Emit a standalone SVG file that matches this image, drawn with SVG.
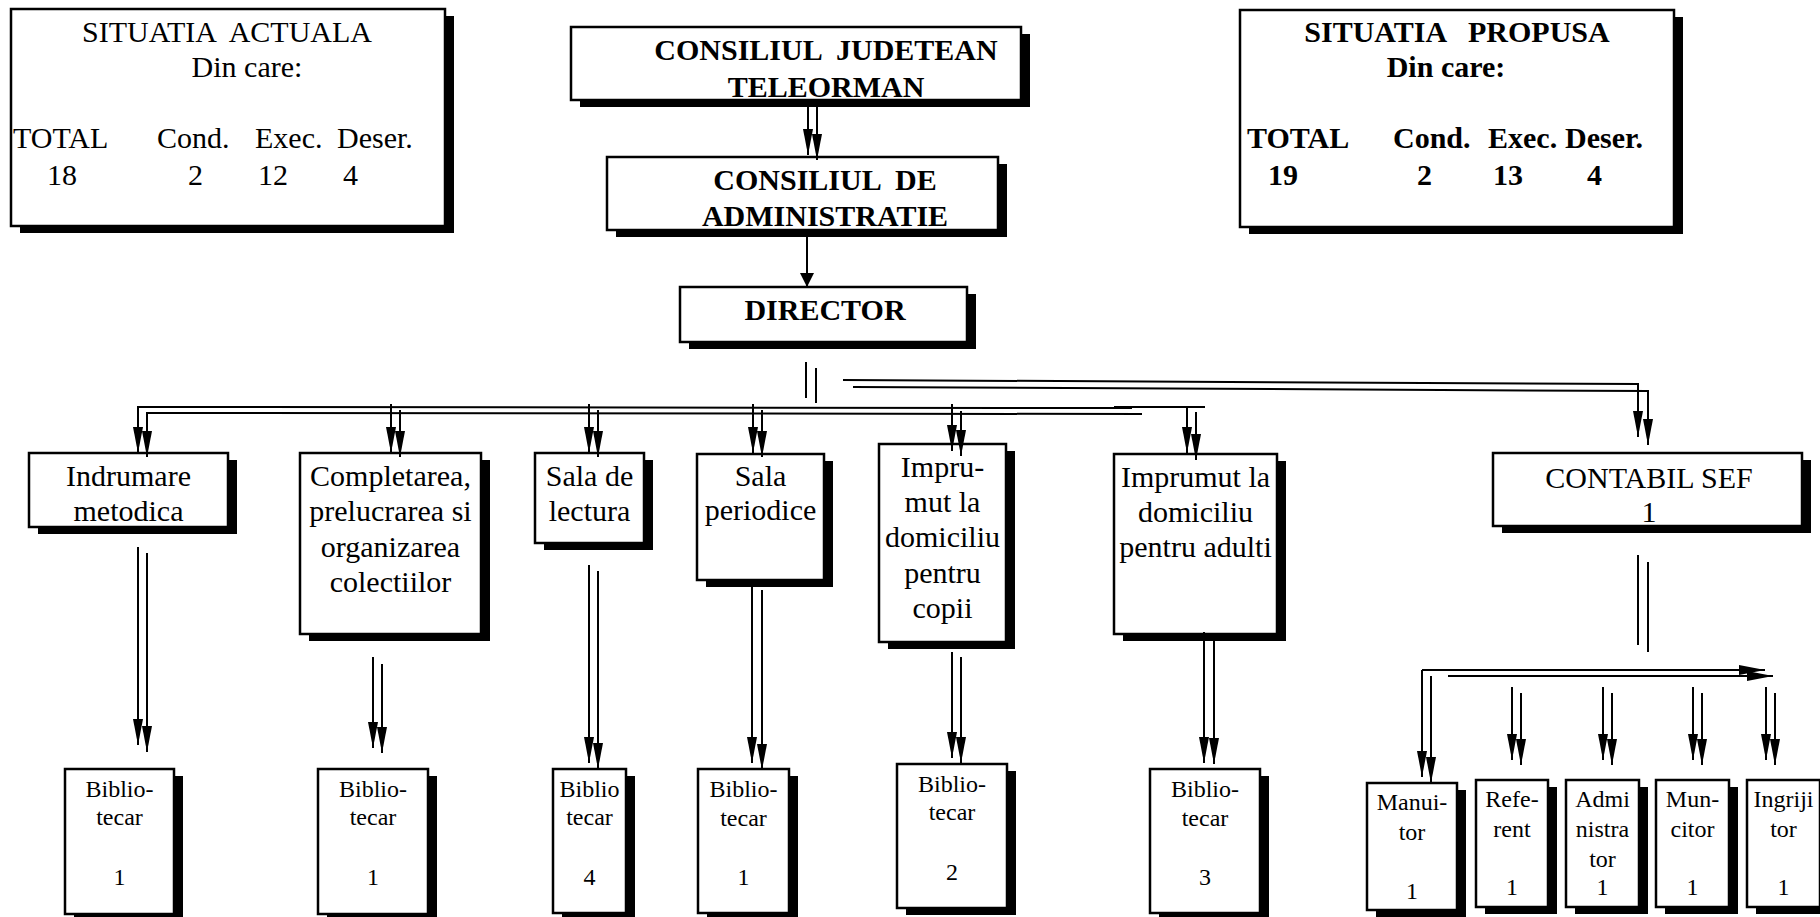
<svg xmlns="http://www.w3.org/2000/svg" width="1820" height="917" viewBox="0 0 1820 917">
<style>
.box{fill:#fff;stroke:#000;stroke-width:2.5}
.sh{fill:#000}
.t{font-family:"Liberation Serif","Times New Roman",serif;font-size:30px;fill:#000}
.b{font-weight:bold}
.m{text-anchor:middle}
.s{font-size:24px}
.c{fill:none;stroke:#000;stroke-width:2}
.a{marker-end:url(#ah)}
</style>
<defs>
<marker id="ah" markerUnits="userSpaceOnUse" markerWidth="26" markerHeight="10" viewBox="0 0 26 10" refX="26" refY="5" orient="auto"><path d="M0,0 L26,5 L0,10 z" fill="#000"/></marker>
<marker id="aw" markerUnits="userSpaceOnUse" markerWidth="14" markerHeight="14" viewBox="0 0 14 14" refX="14" refY="7" orient="auto"><path d="M0,0 L14,7 L0,14 z" fill="#000"/></marker>
</defs>
<rect width="1820" height="917" fill="#fff"/>

<g id="situatia-actuala">
<rect class="sh" x="20" y="16" width="434" height="217"/>
<rect class="box" x="11" y="9" width="434" height="217"/>
<text class="t m" x="227" y="42" xml:space="preserve">SITUATIA  ACTUALA</text>
<text class="t m" x="247" y="77">Din care:</text>
<text class="t" x="13" y="148">TOTAL</text>
<text class="t" x="157" y="148">Cond.</text>
<text class="t" x="255" y="148">Exec.</text>
<text class="t" x="337" y="148">Deser.</text>
<text class="t" x="47" y="185">18</text>
<text class="t" x="188" y="185">2</text>
<text class="t" x="258" y="185">12</text>
<text class="t" x="343" y="185">4</text>
</g>

<g id="situatia-propusa">
<rect class="sh" x="1249" y="17" width="434" height="217"/>
<rect class="box" x="1240" y="10" width="434" height="217"/>
<text class="t b m" x="1457" y="42" xml:space="preserve">SITUATIA   PROPUSA</text>
<text class="t b m" x="1446" y="77">Din care:</text>
<text class="t b" x="1247" y="148">TOTAL</text>
<text class="t b" x="1393" y="148">Cond.</text>
<text class="t b" x="1488" y="148">Exec.</text>
<text class="t b" x="1565" y="148">Deser.</text>
<text class="t b" x="1268" y="185">19</text>
<text class="t b" x="1417" y="185">2</text>
<text class="t b" x="1493" y="185">13</text>
<text class="t b" x="1587" y="185">4</text>
</g>

<g id="consiliul-judetean">
<rect class="sh" x="580" y="34" width="450" height="73"/>
<rect class="box" x="571" y="27" width="450" height="73"/>
<text class="t b m" x="826" y="60" xml:space="preserve">CONSILIUL  JUDETEAN</text>
<text class="t b m" x="826" y="97">TELEORMAN</text>
</g>

<g id="consiliul-administratie">
<rect class="sh" x="616" y="164" width="391" height="73"/>
<rect class="box" x="607" y="157" width="391" height="73"/>
<text class="t b m" x="825" y="190" xml:space="preserve">CONSILIUL  DE</text>
<text class="t b m" x="825" y="226">ADMINISTRATIE</text>
</g>

<g id="director">
<rect class="sh" x="689" y="294" width="287" height="55"/>
<rect class="box" x="680" y="287" width="287" height="55"/>
<text class="t b m" x="825" y="320">DIRECTOR</text>
</g>

<g id="indrumare">
<rect class="sh" x="38" y="460" width="199" height="74"/>
<rect class="box" x="29" y="453" width="199" height="74"/>
<text class="t m" x="128.5" y="486">Indrumare</text>
<text class="t m" x="128.5" y="521">metodica</text>
</g>

<g id="completarea">
<rect class="sh" x="309" y="460" width="181" height="181"/>
<rect class="box" x="300" y="453" width="181" height="181"/>
<text class="t m" x="390.5" y="486">Completarea,</text>
<text class="t m" x="390.5" y="521">prelucrarea si</text>
<text class="t m" x="390.5" y="557">organizarea</text>
<text class="t m" x="390.5" y="592">colectiilor</text>
</g>

<g id="sala-lectura">
<rect class="sh" x="544" y="460" width="109" height="90"/>
<rect class="box" x="535" y="453" width="109" height="90"/>
<text class="t m" x="589.5" y="486">Sala de</text>
<text class="t m" x="589.5" y="521">lectura</text>
</g>

<g id="sala-periodice">
<rect class="sh" x="706" y="461" width="127" height="126"/>
<rect class="box" x="697" y="454" width="127" height="126"/>
<text class="t m" x="760.5" y="486">Sala</text>
<text class="t m" x="760.5" y="520">periodice</text>
</g>

<g id="imprumut-copii">
<rect class="sh" x="888" y="451" width="127" height="198"/>
<rect class="box" x="879" y="444" width="127" height="198"/>
<text class="t m" x="942.5" y="477">Impru-</text>
<text class="t m" x="942.5" y="512">mut la</text>
<text class="t m" x="942.5" y="547">domiciliu</text>
<text class="t m" x="942.5" y="583">pentru</text>
<text class="t m" x="942.5" y="618">copii</text>
</g>

<g id="imprumut-adulti">
<rect class="sh" x="1123" y="461" width="163" height="180"/>
<rect class="box" x="1114" y="454" width="163" height="180"/>
<text class="t m" x="1195.5" y="487">Imprumut la</text>
<text class="t m" x="1195.5" y="522">domiciliu</text>
<text class="t m" x="1195.5" y="557">pentru adulti</text>
</g>

<g id="contabil-sef">
<rect class="sh" x="1502" y="460" width="309" height="73"/>
<rect class="box" x="1493" y="453" width="309" height="73"/>
<text class="t m" x="1649" y="488">CONTABIL SEF</text>
<text class="t m" x="1649" y="522">1</text>
</g>

<g id="bibliotecar-1">
<rect class="sh" x="74" y="776" width="109" height="145"/>
<rect class="box" x="65" y="769" width="109" height="145"/>
<text class="t s m" x="119.5" y="797">Biblio-</text>
<text class="t s m" x="119.5" y="825">tecar</text>
<text class="t s m" x="119.5" y="885">1</text>
</g>

<g id="bibliotecar-2">
<rect class="sh" x="327" y="776" width="110" height="145"/>
<rect class="box" x="318" y="769" width="110" height="145"/>
<text class="t s m" x="373" y="797">Biblio-</text>
<text class="t s m" x="373" y="825">tecar</text>
<text class="t s m" x="373" y="885">1</text>
</g>

<g id="bibliotecar-3">
<rect class="sh" x="562" y="776" width="73" height="144"/>
<rect class="box" x="553" y="769" width="73" height="144"/>
<text class="t s m" x="589.5" y="797">Biblio</text>
<text class="t s m" x="589.5" y="825">tecar</text>
<text class="t s m" x="589.5" y="885">4</text>
</g>

<g id="bibliotecar-4">
<rect class="sh" x="707" y="776" width="91" height="144"/>
<rect class="box" x="698" y="769" width="91" height="144"/>
<text class="t s m" x="743.5" y="797">Biblio-</text>
<text class="t s m" x="743.5" y="826">tecar</text>
<text class="t s m" x="743.5" y="885">1</text>
</g>

<g id="bibliotecar-5">
<rect class="sh" x="906" y="771" width="110" height="144"/>
<rect class="box" x="897" y="764" width="110" height="144"/>
<text class="t s m" x="952" y="792">Biblio-</text>
<text class="t s m" x="952" y="820">tecar</text>
<text class="t s m" x="952" y="880">2</text>
</g>

<g id="bibliotecar-6">
<rect class="sh" x="1159" y="776" width="110" height="144"/>
<rect class="box" x="1150" y="769" width="110" height="144"/>
<text class="t s m" x="1205" y="797">Biblio-</text>
<text class="t s m" x="1205" y="826">tecar</text>
<text class="t s m" x="1205" y="885">3</text>
</g>

<g id="manuitor">
<rect class="sh" x="1376" y="790" width="90" height="127"/>
<rect class="box" x="1367" y="783" width="90" height="127"/>
<text class="t s m" x="1412" y="810">Manui-</text>
<text class="t s m" x="1412" y="840">tor</text>
<text class="t s m" x="1412" y="899">1</text>
</g>

<g id="referent">
<rect class="sh" x="1485" y="787" width="72" height="127"/>
<rect class="box" x="1476" y="780" width="72" height="127"/>
<text class="t s m" x="1512" y="807">Refe-</text>
<text class="t s m" x="1512" y="837">rent</text>
<text class="t s m" x="1512" y="895">1</text>
</g>

<g id="administrator">
<rect class="sh" x="1575" y="787" width="73" height="127"/>
<rect class="box" x="1566" y="780" width="73" height="127"/>
<text class="t s m" x="1602.5" y="807">Admi</text>
<text class="t s m" x="1602.5" y="837">nistra</text>
<text class="t s m" x="1602.5" y="867">tor</text>
<text class="t s m" x="1602.5" y="895">1</text>
</g>

<g id="muncitor">
<rect class="sh" x="1665" y="787" width="73" height="127"/>
<rect class="box" x="1656" y="780" width="73" height="127"/>
<text class="t s m" x="1692.5" y="807">Mun-</text>
<text class="t s m" x="1692.5" y="837">citor</text>
<text class="t s m" x="1692.5" y="895">1</text>
</g>

<g id="ingrijitor">
<rect class="sh" x="1756" y="787" width="73" height="127"/>
<rect class="box" x="1747" y="780" width="73" height="127"/>
<text class="t s m" x="1783.5" y="807">Ingriji</text>
<text class="t s m" x="1783.5" y="837">tor</text>
<text class="t s m" x="1783.5" y="895">1</text>
</g>

<g id="connectors" class="c">
<path class="a" d="M808,106 V155"/>
<path class="a" d="M817,107 V160"/>
<path d="M807,230 V287" style="marker-end:url(#aw)"/>
<path d="M806,362 V398"/>
<path d="M816,368 V403"/>
<path class="a" d="M843,380 L1638,384 L1638,437"/>
<path class="a" d="M853,387 L1648,391 L1648,445"/>
<path class="a" d="M1132,408 L138,407 L138,453"/>
<path class="a" d="M1142,414 L147,413 L147,457"/>
<path class="a" d="M391,404 V453"/>
<path class="a" d="M400,410 V457"/>
<path class="a" d="M589,404 V453"/>
<path class="a" d="M598,410 V457"/>
<path class="a" d="M753,404 V453"/>
<path class="a" d="M762,410 V457"/>
<path class="a" d="M952,404 V451"/>
<path class="a" d="M961,411 V456"/>
<path d="M1114,407 H1205"/>
<path class="a" d="M1187,407 V453"/>
<path class="a" d="M1196,412 V460"/>
<path class="a" d="M138,547 V745"/>
<path class="a" d="M147,553 V752"/>
<path class="a" d="M373,657 V748"/>
<path class="a" d="M382,664 V753"/>
<path class="a" d="M589,565 V763"/>
<path class="a" d="M598,571 V769"/>
<path class="a" d="M752,587 V763"/>
<path class="a" d="M762,590 V770"/>
<path class="a" d="M952,652 V758"/>
<path class="a" d="M961,657 V763"/>
<path class="a" d="M1204,632 V763"/>
<path class="a" d="M1214,640 V764"/>
<path d="M1638,555 V645"/>
<path d="M1648,562 V652"/>
<path class="a" d="M1422,670 H1765"/>
<path class="a" d="M1422,670 V777"/>
<path class="a" d="M1448,676 H1773"/>
<path class="a" d="M1431,676 V783"/>
<path class="a" d="M1512,687 V760"/>
<path class="a" d="M1521,693 V765"/>
<path class="a" d="M1603,687 V760"/>
<path class="a" d="M1612,693 V765"/>
<path class="a" d="M1693,687 V760"/>
<path class="a" d="M1702,693 V765"/>
<path class="a" d="M1766,687 V760"/>
<path class="a" d="M1775,693 V765"/>
</g>
</svg>
